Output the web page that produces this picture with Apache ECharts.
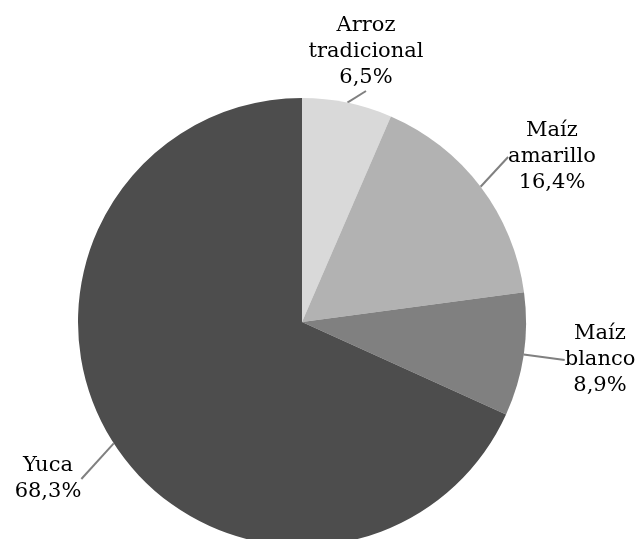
<!DOCTYPE html>
<html>
<head>
<meta charset="utf-8">
<script src="https://cdn.jsdelivr.net/npm/echarts@6/dist/echarts.min.js"></script>
<style>
  html, body { margin: 0; padding: 0; background: #fff; }
  #chart { width: 640px; height: 539px; }
</style>
</head>
<body>
<div id="chart"></div>
<script>
// data
const categories = ['Arroz\ntradicional', 'Maíz\namarillo', 'Maíz\nblanco', 'Yuca']
const shares = [6.5, 16.4, 8.9, 68.3]
const colors = ['#d9d9d9', '#b2b2b2', '#808080', '#4d4d4d']

// where each label block sits (centre), like the reference
const labelPos = [
  [366, 52],
  [552, 157],
  [600, 360],
  [48, 479]
]

const chart = echarts.init(document.getElementById('chart'))

const fmt = (v) => v.toFixed(1).replace('.', ',') + '%'

chart.setOption({
  animation: false,
  textStyle: { fontFamily: 'DejaVu Serif' },
  series: [
    {
      type: 'pie',
      center: [302, 322],
      radius: [0, 224],
      startAngle: 90,
      clockwise: true,
      avoidLabelOverlap: false,
      itemStyle: { borderWidth: 0 },
      label: {
        show: true,
        position: 'outside',
        color: '#000',
        fontSize: 21,
        lineHeight: 26,
        align: 'center',
        formatter: (p) => p.name + '\n' + fmt(p.value)
      },
      labelLine: {
        show: true,
        length: 20,
        length2: 0,
        lineStyle: { color: '#808080', width: 2 }
      },
      labelLayout: (params) => {
        const pos = labelPos[params.dataIndex]
        return { x: pos[0], y: pos[1], align: 'center', verticalAlign: 'middle' }
      },
      data: categories.map((c, i) => ({
        name: c,
        value: shares[i],
        itemStyle: { color: colors[i] }
      }))
    }
  ]
})
</script>
</body>
</html>
